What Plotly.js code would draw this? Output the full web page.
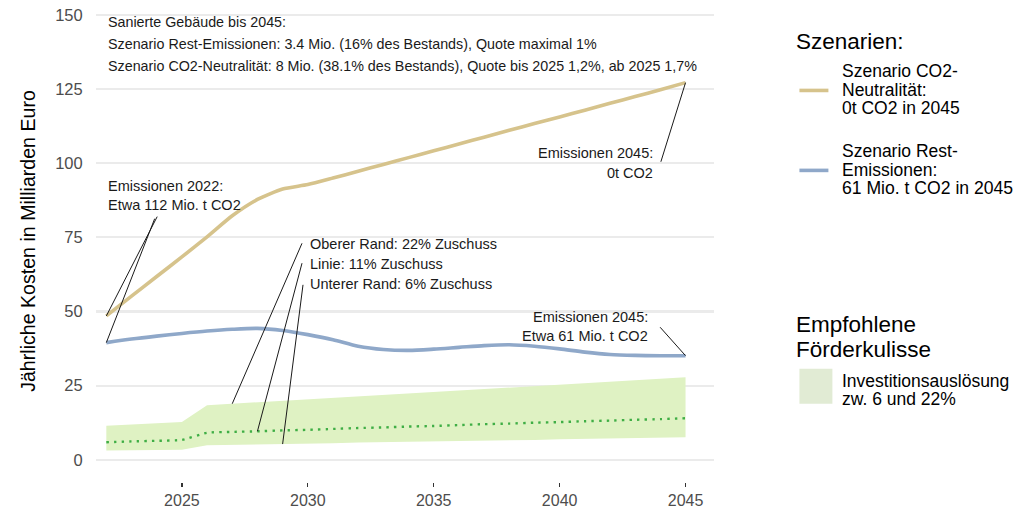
<!DOCTYPE html>
<html>
<head>
<meta charset="utf-8">
<script src="https://cdn.plot.ly/plotly-3.0.1.min.js"></script>
<style>html,body{margin:0;padding:0;background:#fff;}#chart{width:1015px;height:508px;}</style>
</head>
<body>
<div id="chart"></div>
<script>
// ---- data ----
const years = [2022,2023,2024,2025,2026,2027,2028,2029,2030,2031,2032,2033,2034,2035,2036,2037,2038,2039,2040,2041,2042,2043,2044,2045];
const neutral = [48.5,55.2,61.8,68.4,75.2,82.3,87.8,91.3,92.8,95.0,97.3,99.6,101.9,104.2,106.5,108.8,111.1,113.4,115.6,117.9,120.2,122.5,124.8,127.2];
const rest = [39.5,40.7,41.7,42.6,43.4,44.0,44.3,43.6,42.2,40.5,38.3,37.2,36.9,37.3,37.9,38.5,38.8,38.3,37.4,36.3,35.5,35.2,35.1,35.1];
const bandLow = [3.1,3.2,3.3,3.4,4.9,5.0,5.2,5.3,5.5,5.6,5.8,5.9,6.0,6.2,6.3,6.5,6.6,6.7,6.9,7.0,7.2,7.3,7.5,7.6];
const bandHigh = [11.5,11.9,12.3,12.7,18.4,18.9,19.4,19.9,20.4,20.9,21.4,21.9,22.4,22.9,23.4,23.9,24.4,24.9,25.4,25.9,26.3,26.8,27.3,27.8];
const bandMid = [5.9,6.2,6.4,6.7,9.1,9.4,9.6,9.9,10.1,10.4,10.7,10.9,11.2,11.4,11.7,12.0,12.2,12.5,12.7,13.0,13.2,13.5,13.7,14.0];
const xTicks = [2025,2030,2035,2040,2045];
const yTicks = [0,25,50,75,100,125,150];

// ---- style ----
const FONT = "Liberation Sans, Arial, sans-serif";
const GOLD = "#d6c38c";
const BLUE = "#8fa8c9";
const GREEN = "#3fae45";
const BANDFILL = "#dff2c3";
const W = 1015, H = 508;
const ML = 96, MR = 300.5, MT = 0, MB = 25.7;
const PW = W - ML - MR, PH = H - MT - MB;
const PX = px => (px - ML) / PW;
const PY = py => 1 - (py - MT) / PH;
const last = a => a[a.length - 1];
const at = (arr, yr) => arr[years.indexOf(yr)];

const traces = [
  {x: years, y: bandLow, type: "scatter", mode: "lines", line: {width: 0, color: BANDFILL}, showlegend: false, hoverinfo: "skip"},
  {x: years, y: bandHigh, type: "scatter", mode: "lines", fill: "tonexty", fillcolor: BANDFILL, line: {width: 0, color: BANDFILL}, name: "Investitionsauslösung zw. 6 und 22%", showlegend: false},
  {x: years, y: bandMid, type: "scatter", mode: "lines", line: {color: GREEN, width: 2.4, dash: "2.4px,5.2px", shape: "spline", smoothing: 0.5}, name: "11% Zuschuss", showlegend: false},
  {x: years, y: neutral, type: "scatter", mode: "lines", line: {color: GOLD, width: 3.6, shape: "spline", smoothing: 0.6}, name: "Szenario CO2-Neutralität", showlegend: false},
  {x: years, y: rest, type: "scatter", mode: "lines", line: {color: BLUE, width: 3.6, shape: "spline", smoothing: 0.8}, name: "Szenario Rest-Emissionen", showlegend: false}
];

const AFS = 14.5;
const txt = (x, y, text, opts) => Object.assign({
  x: x, y: y, xref: "x", yref: "y", text: text, showarrow: false,
  xanchor: "left", yanchor: "middle", font: {family: FONT, size: AFS, color: "#1a1a1a"}
}, opts || {});
const ptxt = (px, py, text, size, opts) => Object.assign({
  x: PX(px), y: PY(py), xref: "paper", yref: "paper", text: text, showarrow: false,
  xanchor: "left", yanchor: "middle", font: {family: FONT, size: size, color: "#000"}
}, opts || {});
const TOPF = {font: {family: FONT, size: 14.3, color: "#1a1a1a"}};

const annotations = [
  txt(2021.97, 147.6, "Sanierte Gebäude bis 2045:", TOPF),
  txt(2021.97, 140.2, "Szenario Rest-Emissionen: 3.4 Mio. (16% des Bestands), Quote maximal 1%", TOPF),
  txt(2021.97, 132.8, "Szenario CO2-Neutralität: 8 Mio. (38.1% des Bestands), Quote bis 2025 1,2%, ab 2025 1,7%", TOPF),
  txt(2021.97, 92.3, "Emissionen 2022:"),
  txt(2021.97, 85.9, "Etwa 112 Mio. t CO2"),
  txt(2030.0, 72.8, "Oberer Rand: 22% Zuschuss"),
  txt(2030.0, 66.0, "Linie: 11% Zuschuss"),
  txt(2030.0, 59.2, "Unterer Rand: 6% Zuschuss"),
  txt(2043.8, 103.4, "Emissionen 2045:", {xanchor: "right"}),
  txt(2043.8, 96.6, "0t CO2", {xanchor: "right"}),
  txt(2043.57, 48.3, "Emissionen 2045:", {xanchor: "right"}),
  txt(2043.57, 41.6, "Etwa 61 Mio. t CO2", {xanchor: "right"}),
  // legend 1
  ptxt(795, 41.7, "Szenarien:", 22.5),
  ptxt(841, 71, "Szenario CO2-", 17.5),
  ptxt(841, 90, "Neutralität:", 17.5),
  ptxt(841, 108.5, "0t CO2 in 2045", 17.5),
  ptxt(841, 151, "Szenario Rest-", 17.5),
  ptxt(841, 170, "Emissionen:", 17.5),
  ptxt(841, 188.5, "61 Mio. t CO2 in 2045", 17.6),
  // legend 2
  ptxt(795, 325, "Empfohlene", 22.5),
  ptxt(795, 350, "Förderkulisse", 22.5),
  ptxt(841, 381, "Investitionsauslösung", 17.5),
  ptxt(841, 399, "zw. 6 und 22%", 17.5)
];

const seg = (x0, y0, x1, y1) => ({type: "line", xref: "x", yref: "y", x0: x0, y0: y0, x1: x1, y1: y1, layer: "above", line: {color: "#1a1a1a", width: 1}});
const shapes = [
  seg(2024.02, 82.0, years[0], neutral[0]),
  seg(2023.92, 81.3, years[0], rest[0]),
  seg(2029.77, 73.0, 2027, at(bandHigh, 2027)),
  seg(2029.77, 66.3, 2028, at(bandMid, 2028)),
  seg(2029.81, 59.0, 2029, at(bandLow, 2029)),
  seg(2044.02, 100.5, last(years), last(neutral)),
  seg(2043.99, 44.7, last(years), last(rest)),
  // legend swatches
  {type: "line", xref: "paper", yref: "paper", x0: PX(800), x1: PX(829), y0: PY(90.5), y1: PY(90.5), line: {color: GOLD, width: 3.6}},
  {type: "line", xref: "paper", yref: "paper", x0: PX(800), x1: PX(829), y0: PY(170.5), y1: PY(170.5), line: {color: BLUE, width: 3.6}},
  {type: "rect", xref: "paper", yref: "paper", x0: PX(800), x1: PX(833), y0: PY(404), y1: PY(369), fillcolor: "#e1ebd4", line: {width: 0}}
];

const layout = {
  width: W, height: H,
  margin: {l: ML, r: MR, t: MT, b: MB, pad: 0},
  paper_bgcolor: "#fff", plot_bgcolor: "#fff",
  showlegend: false,
  font: {family: FONT, color: "#000"},
  xaxis: {
    range: [2021.59, 2046.13], tickvals: xTicks, ticktext: xTicks.map(String),
    showgrid: false, zeroline: false, showline: false,
    ticks: "outside", ticklen: 4, tickwidth: 1.3, tickcolor: "#333",
    tickfont: {family: FONT, size: 16, color: "#4d4d4d"}, automargin: false
  },
  yaxis: {
    range: [-7.5, 155.06], tickvals: yTicks, ticktext: yTicks.map(String),
    showgrid: true, gridcolor: "#ebebeb", gridwidth: 2.2, zeroline: false, showline: false,
    ticks: "outside", ticklen: 9, tickcolor: "rgba(0,0,0,0)",
    tickfont: {family: FONT, size: 16.5, color: "#4d4d4d"}, automargin: false,
    title: {text: "Jährliche Kosten in Milliarden Euro", font: {family: FONT, size: 19.6, color: "#000"}, standoff: 14}
  },
  annotations: annotations,
  shapes: shapes
};

Plotly.newPlot("chart", traces, layout, {displayModeBar: false, staticPlot: true});
</script>
</body>
</html>
